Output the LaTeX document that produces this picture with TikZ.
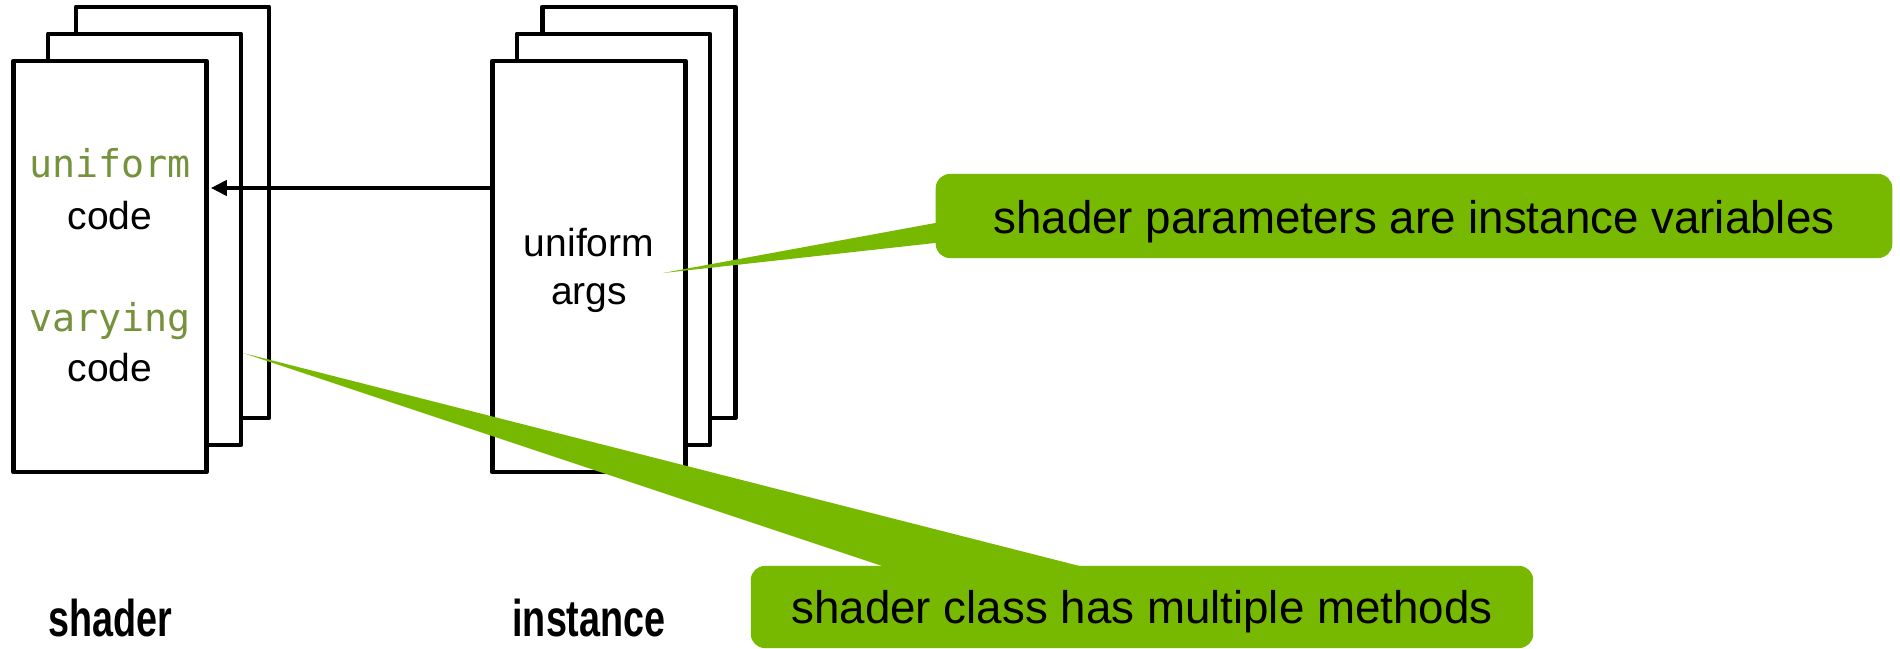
\documentclass[tikz,border=0pt]{standalone}
\usepackage{fontspec}
\setmainfont{Liberation Sans}
\newfontfamily\codefont{DejaVu Sans Mono}
\newfontfamily\labelfont[FakeStretch=0.73]{Liberation Sans Bold}
\usetikzlibrary{arrows.meta,calc}
\definecolor{nvgreen}{HTML}{76B900}
\definecolor{codegreen}{HTML}{76923C}
\begin{document}
\begin{tikzpicture}[x=0.01cm,y=-0.01cm,
  card/.style={draw=black, line width=0.045cm, line join=round, fill=white,
    minimum width=1.93cm, minimum height=4.11cm, inner sep=0pt},
  boxtext/.style={font=\fontsize{11.1}{13}\selectfont, anchor=base, inner sep=0pt},
  codetext/.style={font=\codefont\fontsize{10.9}{13}\selectfont, text=codegreen, anchor=base, inner sep=0pt},
  callout/.style={fill=nvgreen, rounded corners=0.14cm, inner sep=0pt,
    font=\fontsize{13}{15}\selectfont, text depth=0pt},
  pointer/.style={fill=nvgreen},
  label/.style={font=\labelfont\fontsize{14.7}{17}\selectfont, anchor=base, inner sep=0pt},
  link/.style={line width=0.045cm, shorten >=0.02cm, -{Triangle[length=0.16cm,width=0.15cm]}}
]
\useasboundingbox (0,0) rectangle (1900,649);
% shader stack
\node[card] (shB) at (172.5,212.5) {};
\node[card] (shM) at (144.5,239.5) {};
\node[card] (shF) at (110,266.5) {};
% instance stack
\node[card] (inB) at (638.8,212.5) {};
\node[card] (inM) at (613.3,239.5) {};
\node[card] (inF) at (588.8,266.5) {};
% texts
\node[codetext] (su) at (110,178) {uniform};
\node[boxtext] (sc1) at (110,230) {code};
\node[codetext] (sv) at (110,332) {varying};
\node[boxtext] (sc2) at (110,382) {code};
\node[boxtext] (iu) at (589,257) {uniform};
\node[boxtext] (ia) at (589,305) {args};
% arrow
\coordinate (ay) at (0,188);
\draw[link] (inF.west |- ay) -- (shF.east |- ay);
% labels
\node[label] (lsh) at (110,636) {shader};
\node[label] (lin) at (589,636) {instance};
% callouts
\node[callout, minimum width=9.56cm, minimum height=0.84cm, text height=0.34cm] (c1) at (1414,216)
  {shader parameters are instance variables};
\node[callout, minimum width=7.82cm, minimum height=0.82cm, text height=0.32cm] (c2) at (1142,607)
  {shader class has multiple methods};
\coordinate (tipA) at (663,273);
\coordinate (tipB) at (243,353);
\fill[pointer] (tipA) -- ($(c1.west)+(9,5.4)$) -- ($(c1.west)+(9,26)$) -- cycle;
\fill[pointer] (tipB) -- ($(c2.north)+(-235,9)$) -- ($(c2.north)+(-30,9)$) -- cycle;
\end{tikzpicture}
\end{document}
